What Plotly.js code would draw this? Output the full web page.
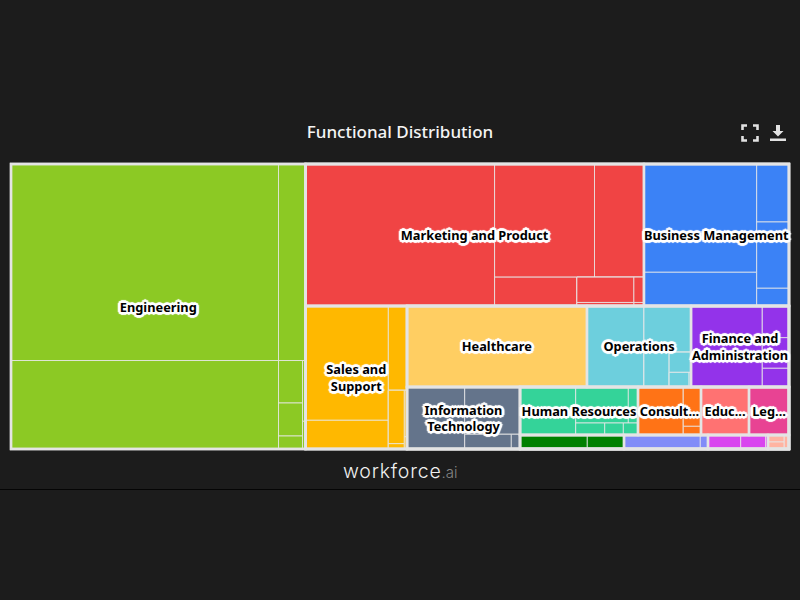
<!DOCTYPE html>
<html><head><meta charset="utf-8">
<script src="https://cdn.plot.ly/plotly-3.0.1.min.js"></script>
<style>
html,body{margin:0;padding:0;background:#1c1c1c;width:800px;height:600px;overflow:hidden}
#chart{position:absolute;left:0;top:0;width:800px;height:600px}
#rule{position:absolute;left:0;top:489px;width:800px;height:1px;background:#050505}
.ic{position:absolute;top:124px;width:18px;height:18px}
</style></head><body>
<div id="chart"></div>
<div id="rule"></div>
<svg class="ic" style="left:741px" viewBox="0 0 18 18" fill="none" stroke="#e2e2e2" stroke-width="2.6"><path d="M1.5 6V1.5H6M12 1.5H16.5V6M16.5 12V16.5H12M6 16.5H1.5V12"/></svg>
<svg class="ic" style="left:769px" viewBox="0 0 18 18" fill="#e2e2e2"><path d="M7 1h4v6h3.5L9 12.6 3.5 7H7zM1 14.5h16V17H1z"/></svg>
<script>
const chartTitle = "Functional Distribution";
const brandName = "workforce";
const brandSuffix = ".ai";

// Top-level functions, their colours and the labels drawn on them
const groupIds = ["Engineering","Marketing","Business","Sales","Healthcare","Operations","Finance","IT","HR","Consulting","Education","Legal","Small1","Small2","Small3","Small4"];
const groupColors = ["#8CC924","#F04444","#3B82F6","#FFB800","#FFCE62","#6DCFDD","#9333EA","#64748B","#34D399","#FF7316","#FF7272","#E84393","#008000","#818CF8","#D946EF","#FFB4A2"];
const groupLabels = ["Engineering","Marketing and Product","Business Management","Sales and<br>Support","Healthcare","Operations","Finance and<br>Administration","Information<br>Technology","Human Resources","Consult...","Educ...","Leg...","","","",""];

const nodeIds = [
 "root","Engineering","spine1","row1","spine2","Marketing","Business","Sales","spine3","row2","spine4","Healthcare","Operations","Finance","IT","spine5","row3","row4","HR","Consulting","Education","Legal","Small1","Small2","Small3","Small4",
 "e_t","e_b","e1","e2","e3","e_d","e_dw","e_dl","e_dr","e4","e5","e6","e7","e8",
 "m0","m1","mR","mT","mB","m2","m3","m4","mC","mC1","mC2","m5","m6","m7","m8",
 "b0","bL","bR","b1","b2","b3","b4","b5",
 "s0","sL","sR","s1","s2","s3","sB","sB1","sB2","s4","s5","s6","s7",
 "o0","o1","oR","o2","oB","o3","oC","o4","oD","o5","o6",
 "f0","f1","fR","f2","f3","f4",
 "i0","i1","iR","i2","iB","i3","i4",
 "h0","h1","hR","hT","hB","h2","h3","h4","h5","h6",
 "c0","c1","cR","c2","c3",
 "g0","g1","g2","p0","p1","p2","q0","q1","q2","q3","k0","kL","k3","k1","k2"
];
const nodeParents = [
 "","root","root","spine1","spine1","row1","row1","spine2","spine2","spine3","spine3","row2","row2","row2","spine4","spine4","spine5","spine5","row3","row3","row3","row3","row4","row4","row4","row4",
 "Engineering","Engineering","e_t","e_t","e_b","e_b","e_d","e_dw","e_dw","e_dl","e_dl","e_dl","e_dr","e_dr",
 "Marketing","m0","m0","mR","mR","mT","mT","mB","mB","mC","mC","mC1","mC1","mC2","mC2",
 "Business","b0","b0","bL","bL","bR","bR","bR",
 "Sales","s0","s0","sL","sL","sR","sR","sB","sB","sB1","sB1","sB2","sB2",
 "Operations","o0","o0","oR","oR","oB","oB","oC","oC","oD","oD",
 "Finance","f0","f0","fR","fR","fR",
 "IT","i0","i0","iR","iR","iB","iB",
 "HR","h0","h0","hR","hR","hT","hT","hB","hB","hB",
 "Consulting","c0","c0","cR","cR",
 "Small1","g0","g0","Small2","p0","p0","Small3","q0","q0","q0","Small4","k0","k0","kL","kL"
];
const nodeValues = [
 0,0,0,0,0,0,0,0,0,0,0,14580,0,0,0,0,0,0,0,0,2304,1920,0,0,0,0,
 0,0,52564,5306,23674,0,0,0,0,1020,792,312,182,83,
 0,26838,0,0,0,11300,5594,2372,0,0,0,1443,255,200,35,
 0,0,0,12205,3798,1873,2141,572,
 0,0,0,9464,2376,1576,0,0,0,854,85,125,33,
 0,4617,0,2176,0,878,0,441,0,290,29,
 0,5775,0,846,817,499,
 0,3577,0,2616,0,685,128,
 0,2674,0,0,0,1894,349,348,223,176,
 0,2174,0,696,154,
 0,942,514,0,1068,108,0,458,350,32,0,0,70,112,112
];

const parentOf = new Map(nodeIds.map((id, i) => [id, nodeParents[i]]));
function groupOf(id) {
  while (id) { if (groupIds.includes(id)) return id; id = parentOf.get(id); }
  return null;
}
function colorOf(id) {
  const g = groupOf(id);
  return g ? groupColors[groupIds.indexOf(g)] : "rgba(0,0,0,0)";
}
function totalOf(id) {
  let sum = nodeValues[nodeIds.indexOf(id)];
  nodeIds.forEach((n, i) => { if (nodeParents[i] === id) sum += totalOf(n); });
  return sum;
}

const tiling = {packing: "slice-dice", pad: 0};
const noPad = {t: 0, l: 0, r: 0, b: 0};

const fine = {
  type: "treemap", ids: nodeIds, labels: nodeIds, parents: nodeParents, values: nodeValues,
  branchvalues: "remainder", sort: false, tiling: tiling, textinfo: "none", hoverinfo: "skip",
  pathbar: {visible: false}, leaf: {opacity: 1},
  marker: {colors: nodeIds.map(colorOf), pad: noPad, line: {color: "rgba(232,232,232,0.8)", width: 1}}
};

// Second layer: the functions only, to draw the heavy borders and centred names
const outerIds = nodeIds.filter(id => { const g = groupOf(id); return !g || g === id; });
const shadowSteps = [[2,0],[-2,0],[0,2],[0,-2],[2,2],[-2,2],[2,-2],[-2,-2],[1,2],[-1,2],[1,-2],[-1,-2],[2,1],[-2,1],[2,-1],[-2,-1],[3,0],[-3,0],[0,3],[0,-3]];
const outline = shadowSteps.map(s => s[0] + "px " + s[1] + "px 0.8px #fff").join(",");
const labelFont = {family: "'Noto Sans',sans-serif", size: 12.8, weight: 700, color: "#000", shadow: outline};
const outer = {
  type: "treemap", ids: outerIds, labels: outerIds,
  parents: outerIds.map(id => parentOf.get(id)),
  values: outerIds.map(id => groupIds.includes(id) ? totalOf(id) : 0),
  text: outerIds.map(id => groupIds.includes(id) ? groupLabels[groupIds.indexOf(id)] : ""),
  branchvalues: "remainder", sort: false, tiling: tiling, textinfo: "text", hoverinfo: "skip",
  textposition: "middle center", textfont: labelFont, insidetextfont: labelFont,
  pathbar: {visible: false}, leaf: {opacity: 1},
  marker: {colors: outerIds.map(() => "rgba(0,0,0,0)"), pad: noPad, line: {color: "#e4e4e4", width: 2.4}}
};

const layout = {
  width: 800, height: 600,
  paper_bgcolor: "#1c1c1c", plot_bgcolor: "#1c1c1c",
  margin: {l: 11, r: 11, t: 164, b: 151},
  title: {text: chartTitle, x: 0.5, xanchor: "center", y: 1 - 132/600, yanchor: "middle",
          font: {family: "'Noto Sans',sans-serif", size: 17, weight: 500, color: "#f4f4f4"}},
  uniformtext: {mode: "show", minsize: 12.8},
  annotations: [{
    xref: "paper", yref: "paper", x: 0.5, y: -0.077, xanchor: "center", yanchor: "middle", showarrow: false,
    text: "<span style=\"letter-spacing:0.8px\">" + brandName + "</span><span style=\"font-size:15px;color:#858585\">" + brandSuffix + "</span>",
    font: {family: "Inter,sans-serif", size: 19.5, weight: 300, color: "#f0f0f0"}
  }]
};
Plotly.newPlot("chart", [fine, outer], layout, {displayModeBar: false, responsive: false});
</script>
</body></html>
